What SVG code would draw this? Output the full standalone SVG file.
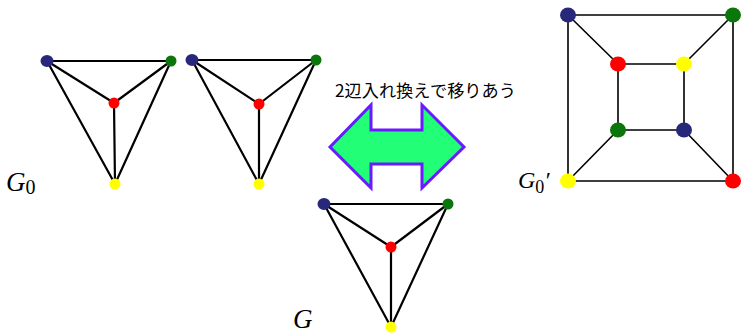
<svg xmlns="http://www.w3.org/2000/svg" width="742" height="334" viewBox="0 0 742 334">
<style>
.e{stroke:#000;stroke-width:2.2;fill:none}
.c{stroke:#000;stroke-width:1.6;fill:none}
.b{fill:#28287a}
.g{fill:#0b760b}
.r{fill:#ff0000}
.y{fill:#ffff00}
.lab{font-family:"Liberation Serif",serif;font-style:italic;fill:#000}
.sub{font-family:"Liberation Serif",serif;font-style:normal;fill:#000}
.jp{font-family:"Noto Sans CJK JP","Noto Sans",sans-serif;font-size:17.2px;fill:#000}
</style>
<rect width="742" height="334" fill="#fff"/>
<g id="connectors">
<path class="e" d="M47,61 L171,61 M47,61 L114,103 M171,61 L114,103 M47,61 L115,184 M171,61 L115,184 M114,103 L115,184"/>
<path class="e" d="M192,60 L316,60 M192,60 L259,104 M316,60 L259,104 M192,60 L259,184 M316,60 L259,184 M259,104 L259,184"/>
<path class="e" d="M324,204 L448,204 M324,204 L391,247 M448,204 L391,247 M324,204 L391,327 M448,204 L391,327 M391,247 L391,327"/>
<path class="c" d="M568,15 L733,15 L733,181 L568,181 Z M618,64 L684,64 L684,130 L618,130 Z M568,15 L618,64 M733,15 L684,64 M568,181 L618,130 M733,181 L684,130"/>
</g>
<g id="arrow">
<polygon points="330,147 371,105 371,130 422,130 422,105 464,147 422,188 422,164 371,164 371,188" fill="#22ff77" stroke="#6a1aff" stroke-width="3" stroke-linejoin="miter"/>
</g>
<g id="caption"><text class="jp" x="335" y="96.5">2辺入れ換えで移りあう</text></g>
<g id="G0">
<ellipse class="b" cx="47" cy="61" rx="6.5" ry="6"/>
<circle class="g" cx="171" cy="61" r="5.5"/>
<circle class="r" cx="114" cy="103" r="5.5"/>
<circle class="y" cx="115" cy="184" r="5.5"/>
<text x="6" y="191"><tspan class="lab" font-size="27">G</tspan><tspan class="sub" font-size="20" dy="3">0</tspan></text>
</g>
<g id="G0copy">
<ellipse class="b" cx="192" cy="60" rx="6.5" ry="6"/>
<circle class="g" cx="316" cy="60" r="5.5"/>
<circle class="r" cx="259" cy="104" r="5.5"/>
<circle class="y" cx="259" cy="184" r="5.5"/>
</g>
<g id="G">
<ellipse class="b" cx="324" cy="204" rx="6.5" ry="6"/>
<circle class="g" cx="448" cy="204" r="5.5"/>
<circle class="r" cx="391" cy="247" r="5.5"/>
<circle class="y" cx="391" cy="327" r="5.5"/>
<text class="lab" x="293" y="327.5" font-size="27">G</text>
</g>
<g id="G0prime">
<ellipse class="b" cx="568" cy="15" rx="8" ry="7.5"/>
<ellipse class="g" cx="733" cy="15" rx="8" ry="7.5"/>
<ellipse class="y" cx="568" cy="181" rx="8" ry="7.5"/>
<ellipse class="r" cx="733" cy="181" rx="8" ry="7.5"/>
<ellipse class="r" cx="618" cy="64" rx="8" ry="7.5"/>
<ellipse class="y" cx="684" cy="64" rx="8" ry="7.5"/>
<ellipse class="g" cx="618" cy="130" rx="8" ry="7.5"/>
<ellipse class="b" cx="684" cy="130" rx="8" ry="7.5"/>
<text x="518" y="188"><tspan class="lab" font-size="24">G</tspan><tspan class="sub" font-size="18" dy="5">0</tspan><tspan class="lab" font-size="24" dy="-5">′</tspan></text>
</g>
</svg>
